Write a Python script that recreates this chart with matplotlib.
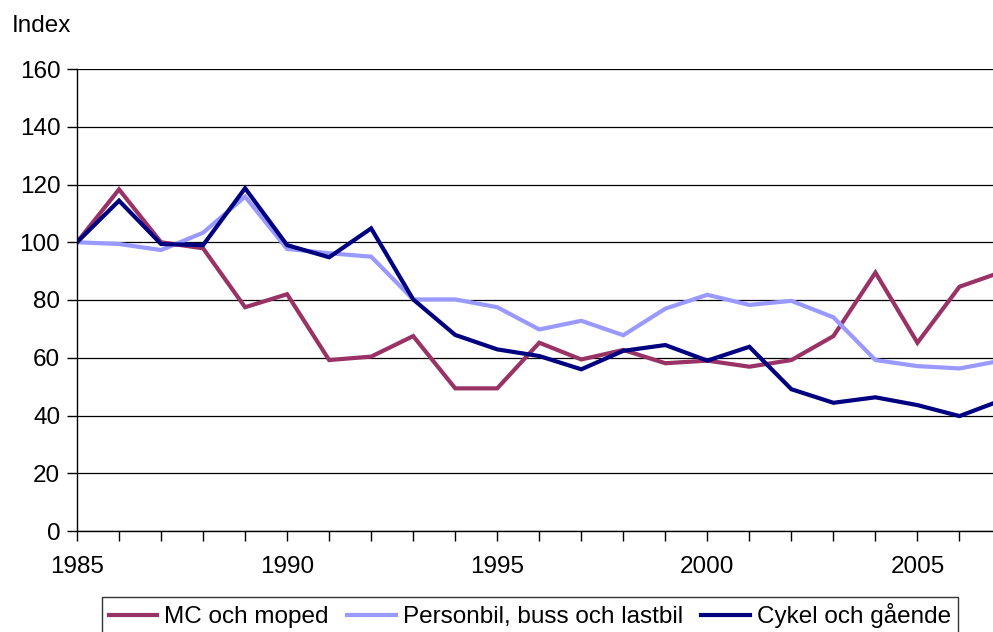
import matplotlib
matplotlib.use("Agg")
import matplotlib.pyplot as plt
from matplotlib.ticker import MultipleLocator

plt.rcParams['font.family'] = ['Liberation Sans', 'DejaVu Sans']

years = list(range(1985, 2008))
mc_moped = [100, 118.3, 100, 97.9, 77.5, 82.0, 59.2, 60.4, 67.5, 49.4, 49.4, 65.2,
            59.4, 62.7, 58.1, 59.0, 56.9, 59.2, 67.5, 89.5, 65.2, 84.6, 89.7]
personbil = [100, 99.4, 97.3, 103.3, 115.8, 97.7, 96.2, 95.0, 80.2, 80.2, 77.5, 69.8,
             72.8, 67.8, 77.0, 81.8, 78.3, 79.7, 74.0, 59.2, 57.1, 56.3, 59.0]
cykel = [100, 114.4, 99.4, 99.0, 118.7, 99.0, 94.8, 104.8, 80.2, 67.9, 62.9, 60.6,
         56.0, 62.4, 64.4, 59.0, 63.8, 49.1, 44.4, 46.3, 43.6, 39.8, 45.3]

series = [
    ("MC och moped", mc_moped, "#993366"),
    ("Personbil, buss och lastbil", personbil, "#9999FF"),
    ("Cykel och gående", cykel, "#000080"),
]

fs = 17.5
fig = plt.figure(figsize=(9.93, 6.32), dpi=100)
W, H = 993, 632
# axes runs past the right edge, as in the cropped original
ax = fig.add_axes([77 / W, (H - 531) / H, (1001.5 - 77) / W, (531 - 69) / H])

for name, vals, col in series:
    ax.plot(years, vals, color=col, lw=3.0, label=name, solid_joinstyle='miter')

ax.set_xlim(1985, 2007)
ax.set_ylim(0, 160)
ax.xaxis.set_major_locator(MultipleLocator(5))
ax.xaxis.set_minor_locator(MultipleLocator(1))
ax.yaxis.set_major_locator(MultipleLocator(20))
ax.grid(axis='y', color='black', lw=0.9)
ax.set_axisbelow(True)
for s in ('top', 'right'):
    ax.spines[s].set_visible(False)
for s in ('left', 'bottom'):
    ax.spines[s].set_linewidth(1.0)
ax.tick_params(axis='both', which='both', direction='out', length=7, width=1,
               labelsize=fs)
ax.tick_params(axis='x', pad=11)
ax.tick_params(axis='y', pad=5)

fig.text(12 / W, 1 - 26 / H, "Index", fontsize=fs, va='center', ha='left')

leg = fig.legend(loc='upper center', bbox_to_anchor=(530 / W, 1 - 597 / H), ncol=3,
                 fontsize=fs, frameon=True, fancybox=False, edgecolor='black',
                 handlelength=2.0, handletextpad=0.3, columnspacing=0.75,
                 borderpad=0.25, borderaxespad=0)
leg.get_frame().set_linewidth(1.0)

fig.savefig("out.png", dpi=100)
